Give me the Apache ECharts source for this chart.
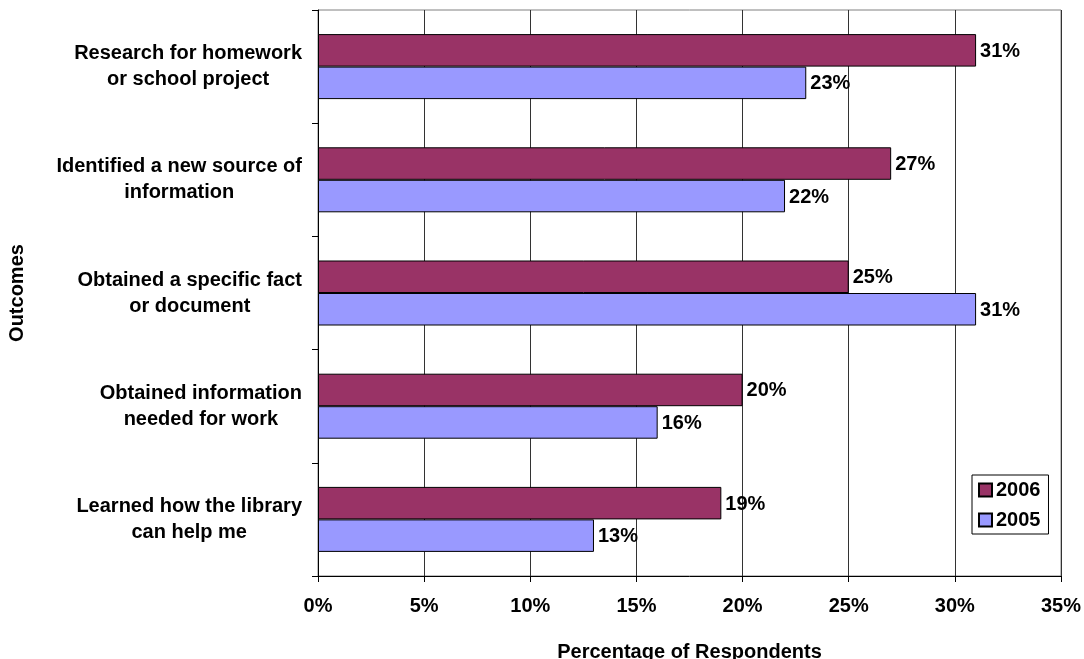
<!DOCTYPE html>
<html>
<head>
<meta charset="utf-8">
<script src="https://cdn.jsdelivr.net/npm/echarts@6/dist/echarts.min.js"></script>
<style>
  html, body { margin: 0; padding: 0; background: #fff; }
  #chart { width: 1084px; height: 659px; }
</style>
</head>
<body>
<div id="chart"></div>
<script>
// Outcomes reported by respondents, top to bottom
const categories = [
  'Research for homework\nor school project',
  'Identified a new source of\ninformation',
  'Obtained a specific fact\nor document',
  'Obtained information\nneeded for work',
  'Learned how the library\ncan help me'
];
const values2006 = [31, 27, 25, 20, 19];
const values2005 = [23, 22, 31, 16, 13];
const xTicks = [0, 5, 10, 15, 20, 25, 30, 35];

const FONT = '"Liberation Sans", Arial, sans-serif';
const FS = 20;

const chart = echarts.init(document.getElementById('chart'), null, { renderer: 'canvas' });

function barSeries(name, data, color) {
  return {
    name: name,
    type: 'bar',
    data: data,
    barWidth: 32.5,
    barGap: '0%',
    itemStyle: { color: color, borderColor: '#000', borderWidth: 1 },
    label: {
      show: true,
      position: 'right',
      distance: 4,
      offset: [0, 1],
      formatter: p => p.value + '%',
      color: '#000',
      fontFamily: FONT,
      fontWeight: 'bold',
      fontSize: FS
    },
    emphasis: { disabled: true },
    animation: false
  };
}

chart.setOption({
  backgroundColor: '#fff',
  animation: false,
  grid: {
    left: 318, right: 23, top: 10, bottom: 83,
    outerBoundsMode: 'none',
    containLabel: false,
    show: true, borderColor: '#808080', borderWidth: 1
  },
  legend: {
    orient: 'vertical',
    left: 972, top: 475,
    data: ['2006', '2005'],
    itemWidth: 13, itemHeight: 13, itemGap: 10,
    padding: [5, 8, 4, 6],
    borderColor: '#000', borderWidth: 1,
    backgroundColor: '#fff',
    textStyle: { fontFamily: FONT, fontWeight: 'bold', fontSize: FS, color: '#000', padding: [0, 0, 0, -1] },
    icon: 'rect'
  },
  xAxis: {
    type: 'value',
    min: xTicks[0], max: xTicks[xTicks.length - 1], interval: 5,
    name: 'Percentage of Respondents',
    nameLocation: 'middle',
    nameGap: 66,
    nameTextStyle: { fontFamily: FONT, fontWeight: 'bold', fontSize: FS, color: '#000' },
    axisLine: { show: true, lineStyle: { color: '#000', width: 1 } },
    axisTick: { show: true, length: 6, lineStyle: { color: '#000' } },
    axisLabel: {
      margin: 20,
      formatter: v => v + '%',
      fontFamily: FONT, fontWeight: 'bold', fontSize: FS, color: '#000'
    },
    splitLine: { show: true, lineStyle: { color: '#333', width: 1 } }
  },
  yAxis: {
    type: 'category',
    inverse: true,
    data: categories,
    name: 'Outcomes',
    nameLocation: 'middle',
    nameGap: 291,
    nameRotate: 90,
    nameTextStyle: { fontFamily: FONT, fontWeight: 'bold', fontSize: FS, color: '#000' },
    axisLine: { show: true, lineStyle: { color: '#000', width: 1 } },
    axisTick: { show: true, length: 6, lineStyle: { color: '#000' } },
    axisLabel: {
      margin: 16,
      align: 'right',
      formatter: v => v.split('\n').map(s => '{c|' + s + '}').join('\n'),
      rich: {
        c: { align: 'center', fontFamily: FONT, fontWeight: 'bold', fontSize: FS, color: '#000', lineHeight: 26 }
      }
    },
    splitLine: { show: false }
  },
  series: [
    barSeries('2006', values2006, '#993366'),
    barSeries('2005', values2005, '#9999FF')
  ]
});
</script>
</body>
</html>
